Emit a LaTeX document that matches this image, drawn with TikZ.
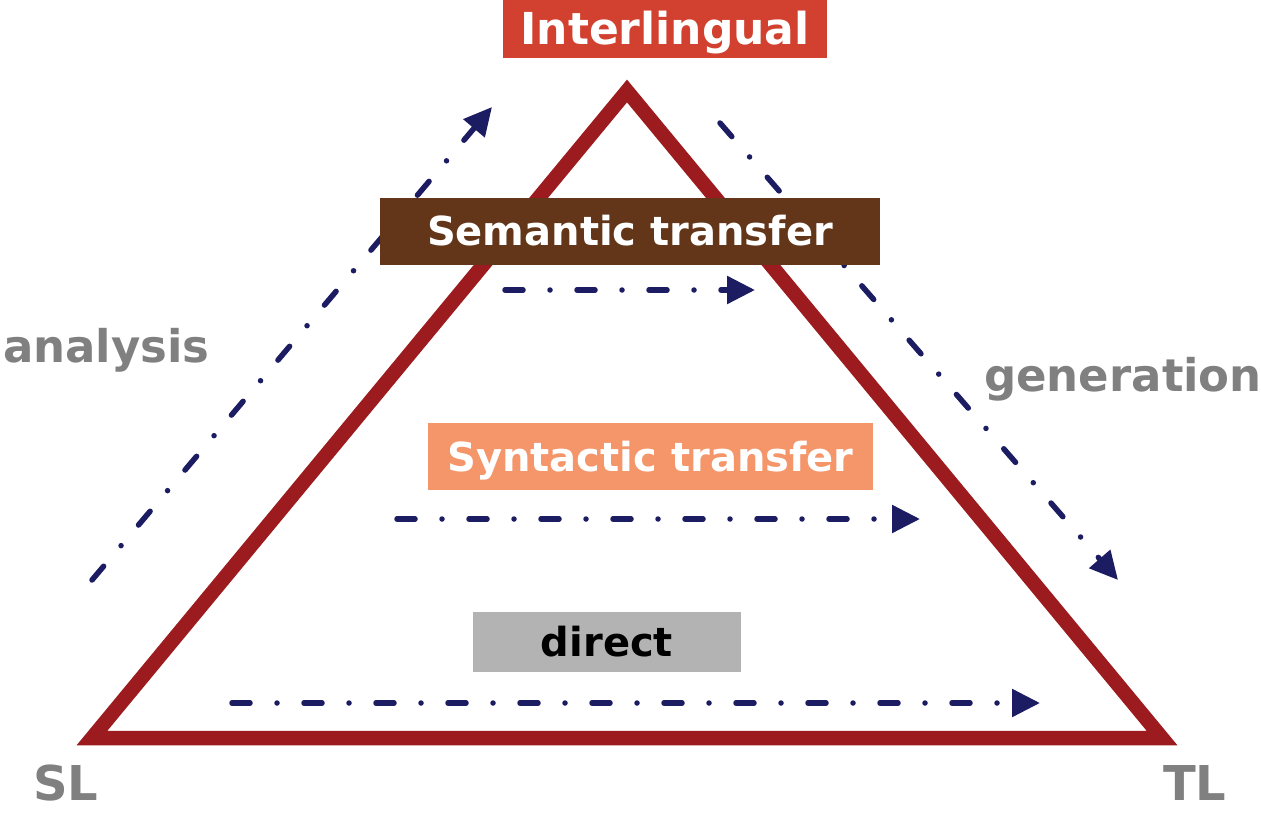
\documentclass[tikz,border=0pt]{standalone}
\usepackage{fontspec}
\setmainfont{DejaVu Sans}
\usetikzlibrary{arrows.meta}
\definecolor{trired}{HTML}{9B1B1E}
\definecolor{interred}{HTML}{D2412F}
\definecolor{brownbox}{HTML}{633619}
\definecolor{salmon}{HTML}{F4956A}
\definecolor{greybox}{HTML}{B3B3B3}
\definecolor{navy}{HTML}{1C1C62}
\definecolor{labgrey}{HTML}{808080}
\tikzset{
  levelbox/.style={inner sep=0pt, text height=29pt, text depth=0pt, font=\bfseries\fontsize{40}{44}\selectfont},
  flow/.style={draw=navy, line width=5.5pt, line cap=round,
    dash pattern=on 18pt off 27pt on 0pt off 27pt,
    -{Triangle[length=28pt,width=27pt]}},
  sidelabel/.style={text=labgrey, inner sep=0pt, font=\bfseries\fontsize{45}{50}\selectfont},
  cornerlabel/.style={text=labgrey, inner sep=0pt, font=\bfseries\fontsize{48}{54}\selectfont}
}
\begin{document}
\begin{tikzpicture}[x=1pt,y=-1pt]
\useasboundingbox (0,0) rectangle (1261,813);
% triangle
\coordinate (L) at (92,738);
\coordinate (A) at (627,91);
\coordinate (R) at (1162,738);
\draw[trired, line width=14.5pt, line join=miter] (L) -- (A) -- (R) -- cycle;
% arrow end points
\coordinate (an1) at (92,580);
\coordinate (an2) at (492,107);
\coordinate (ge1) at (720,123);
\coordinate (ge2) at (1118,580);
\coordinate (se1) at (505,290);
\coordinate (se2) at (755,290);
\coordinate (sy1) at (397,519);
\coordinate (sy2) at (920,519);
\coordinate (di1) at (232,703);
\coordinate (di2) at (1040,703);
\draw[flow] (an1) -- (an2);
\draw[flow] (ge1) -- (ge2);
\draw[flow] (se1) -- (se2);
\draw[flow] (sy1) -- (sy2);
\draw[flow] (di1) -- (di2);
% boxes
\node[levelbox, fill=interred, text=white, minimum width=324pt, minimum height=58pt,
  text height=32pt, font=\bfseries\fontsize{44}{48}\selectfont] (inter) at (665,29) {Interlingual};
\node[levelbox, fill=brownbox, text=white, minimum width=500pt, minimum height=67pt] (sem) at (630,231.5) {Semantic transfer};
\node[levelbox, fill=salmon, text=white, minimum width=445pt, minimum height=67pt] (syn) at (650.5,456.5) {Syntactic transfer};
\node[levelbox, fill=greybox, text=black, minimum width=268pt, minimum height=60pt] (dir) at (607,642) {direct};
% labels
\node[sidelabel, anchor=base west] (ana) at (3,362) {analysis};
\node[sidelabel, anchor=base west] (gen) at (984,391) {generation};
\node[cornerlabel, anchor=base west] (sl) at (33,800) {SL};
\node[cornerlabel, anchor=base west] (tl) at (1163,800) {TL};
\end{tikzpicture}
\end{document}
